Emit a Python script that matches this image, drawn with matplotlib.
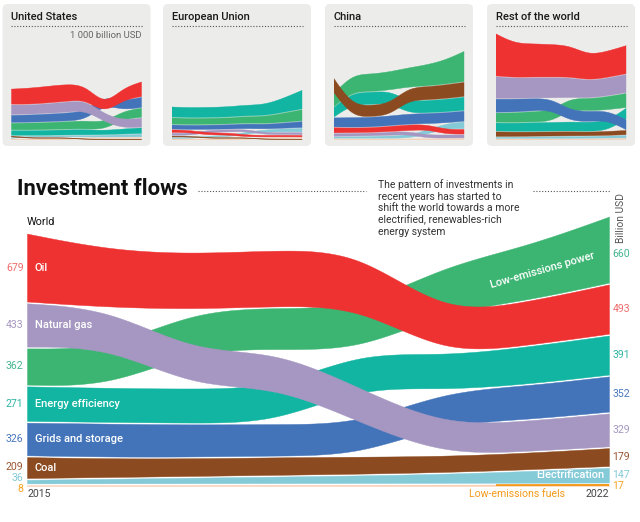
import numpy as np
import matplotlib.pyplot as plt
from matplotlib.patches import FancyBboxPatch

plt.rcParams['font.family'] = ['Roboto', 'DejaVu Sans']

YEARS = [2015, 2016, 2017, 2018, 2019, 2020, 2021, 2022]
CATEGORIES = ['Oil', 'Natural gas', 'Low-emissions power', 'Energy efficiency',
              'Grids and storage', 'Coal', 'Electrification', 'Low-emissions fuels']
COLORS = ['#EE3131', '#A597C1', '#3CB572', '#12B5A2',
          '#4374BA', '#8B4A1F', '#84CAD7', '#F8CDB0']
LABEL_COLORS = ['#F06A6A', '#A597C1', '#45B58E', '#2DB5A5',
                '#4A78BE', '#9A5530', '#84CAD7', '#F5A623']

# billion USD, rows follow CATEGORIES, columns follow YEARS
WORLD = [
    [679, 570, 550, 560, 550, 400, 430, 493],
    [433, 380, 350, 355, 340, 290, 300, 329],
    [362, 375, 395, 410, 420, 460, 540, 660],
    [345, 340, 340, 345, 345, 340, 370, 391],
    [326, 330, 320, 315, 310, 320, 335, 352],
    [209, 185, 175, 175, 170, 160, 165, 179],
    [36, 45, 55, 65, 75, 90, 115, 147],
    [8, 9, 10, 11, 12, 13, 15, 17],
]
START_LABELS = [679, 433, 362, 271, 326, 209, 36, 8]
END_LABELS = [493, 329, 660, 391, 352, 179, 147, 17]

US = [
    [150, 160, 165, 170, 140, 80, 120, 145],
    [95, 90, 95, 100, 100, 75, 80, 88],
    [65, 68, 70, 72, 80, 70, 82, 90],
    [45, 45, 48, 50, 52, 40, 50, 55],
    [70, 72, 75, 78, 85, 85, 92, 100],
    [8, 6, 5, 5, 4, 3, 3, 3],
    [5, 6, 8, 10, 12, 15, 20, 25],
    [3, 3, 3, 4, 4, 4, 5, 6],
]
EU = [
    [25, 22, 20, 19, 18, 14, 15, 14],
    [20, 18, 21, 20, 20, 16, 17, 18],
    [62, 60, 60, 60, 65, 70, 90, 110],
    [100, 100, 100, 102, 105, 110, 140, 185],
    [40, 40, 40, 42, 45, 45, 50, 58],
    [8, 7, 6, 6, 5, 4, 4, 3],
    [5, 6, 8, 11, 19, 22, 28, 35],
    [2, 2, 3, 3, 4, 4, 5, 5],
]
CHINA = [
    [50, 45, 45, 50, 55, 50, 45, 45],
    [25, 25, 25, 28, 30, 30, 30, 30],
    [130, 170, 175, 180, 190, 210, 240, 300],
    [95, 120, 120, 120, 120, 120, 125, 130],
    [90, 95, 95, 95, 100, 100, 100, 100],
    [140, 115, 110, 115, 125, 130, 135, 140],
    [10, 12, 15, 20, 28, 38, 50, 65],
    [5, 5, 5, 5, 5, 5, 6, 7],
]
REST = [
    [420, 340, 330, 325, 310, 250, 260, 280],
    [215, 200, 200, 200, 195, 170, 175, 180],
    [90, 95, 102, 108, 115, 120, 130, 140],
    [80, 80, 85, 85, 90, 88, 95, 105],
    [130, 128, 120, 112, 105, 98, 96, 98],
    [45, 42, 40, 40, 40, 35, 38, 42],
    [10, 10, 12, 13, 15, 15, 18, 22],
    [3, 3, 4, 4, 4, 5, 6, 8],
]
REGIONS = ['United States', 'European Union', 'China', 'Rest of the world']

DRAW_ORDER = [7, 6, 3, 2, 4, 5, 1, 0]
DOTS = (0, (1, 1.6))


def basis(x, y, n=40):
    # uniform cubic B-spline with tripled end points (like d3.curveBasis)
    x = np.r_[x[0], x[0], x, x[-1], x[-1]].astype(float)
    y = np.r_[y[0], y[0], y, y[-1], y[-1]].astype(float)
    t = np.linspace(0, 1, n)
    b0 = (1 - t) ** 3 / 6
    b1 = (3 * t ** 3 - 6 * t ** 2 + 4) / 6
    b2 = (-3 * t ** 3 + 3 * t ** 2 + 3 * t + 1) / 6
    b3 = t ** 3 / 6
    xs, ys = [], []
    for i in range(len(x) - 3):
        xs.append(b0 * x[i] + b1 * x[i + 1] + b2 * x[i + 2] + b3 * x[i + 3])
        ys.append(b0 * y[i] + b1 * y[i + 1] + b2 * y[i + 2] + b3 * y[i + 3])
    return np.concatenate(xs), np.concatenate(ys)


def stack(values, gap):
    v = np.array(values, float)
    lo = np.zeros_like(v)
    hi = np.zeros_like(v)
    for j in range(v.shape[1]):
        base = 0
        for i in sorted(range(len(v)), key=lambda k: v[k, j]):
            lo[i, j] = base
            hi[i, j] = base + v[i, j]
            base = hi[i, j] + gap
    return lo, hi


def draw_streams(ax, values, gap):
    lo, hi = stack(values, gap)
    curves = {}
    for i in DRAW_ORDER:
        xc, yl = basis(YEARS, lo[i])
        _, yh = basis(YEARS, hi[i])
        ax.fill_between(xc, yl, yh, color=COLORS[i], lw=0.3, ec=COLORS[i])
        curves[i] = (xc, yl, yh)
    return lo, hi, curves


def spread(ys, d):
    ys = np.array(ys, float)
    order = np.argsort(ys)
    for _ in range(60):
        for a, b in zip(order[:-1], order[1:]):
            if ys[b] - ys[a] < d:
                m = (d - (ys[b] - ys[a])) / 2
                ys[a] -= m
                ys[b] += m
    return ys


W, H = 640, 522
fig = plt.figure(figsize=(W / 100, H / 100), dpi=100)


def px_axes(x0, y0, x1, y1):
    return fig.add_axes([x0 / W, 1 - y1 / H, (x1 - x0) / W, (y1 - y0) / H])


bg = fig.add_axes([0, 0, 1, 1])
bg.set_xlim(0, W)
bg.set_ylim(H, 0)
bg.axis('off')

# ---- small multiples ----
panel_x = [2.5, 163, 325, 487]
for k, (name, data) in enumerate(zip(REGIONS, [US, EU, CHINA, REST])):
    x0 = panel_x[k]
    bg.add_patch(FancyBboxPatch((x0, 4), 148, 142, boxstyle='round,pad=0,rounding_size=5',
                                fc='#ECECEA', ec='none'))
    bg.text(x0 + 8.5, 17, name, fontsize=8, fontweight='medium', color='#1a1a1a',
            ha='left', va='center')
    bg.plot([x0 + 8.5, x0 + 140], [26, 26], color='#555555', lw=0.8, ls=DOTS)
    sax = px_axes(x0 + 8.5, 30, x0 + 138.5, 139)
    sax.set_xlim(2015, 2022)
    sax.set_ylim(0, 1090)
    sax.axis('off')
    draw_streams(sax, data, 9)
bg.text(141, 35, '1 000 billion USD', fontsize=6.8, color='#666666', ha='right', va='center')

# ---- headline ----
bg.text(17, 189, 'Investment flows', fontsize=15.8, fontweight='bold', color='#111111',
        ha='left', va='center')
bg.plot([198, 366], [191, 191], color='#555555', lw=0.8, ls=DOTS)
bg.plot([533, 610], [191, 191], color='#555555', lw=0.8, ls=DOTS)
bg.text(378, 179, 'The pattern of investments in\nrecent years has started to\n'
        'shift the world towards a more\nelectrified, renewables-rich\nenergy system',
        fontsize=7.5, color='#333333', ha='left', va='top', linespacing=1.2)
bg.text(621, 218, 'Billion USD', fontsize=7.4, color='#555555', rotation=90,
        ha='center', va='center')

# ---- world chart ----
ax = px_axes(27, 160, 609, 486)
ax.set_xlim(2015, 2022)
ax.set_ylim(0, 3260)
ax.axis('off')
lo, hi, curves = draw_streams(ax, WORLD, 18)

# highlight the low-emissions fuels strip at the end
xc, yl, yh = curves[7]
m = xc >= 2020.63
ax.plot(xc[m], (yl[m] + yh[m]) / 2, color='#F39A1B', lw=1.6, solid_capstyle='butt')

left_y = spread((lo[:, 0] + hi[:, 0]) / 2, 110)
right_y = spread((lo[:, -1] + hi[:, -1]) / 2, 110)
right_y = np.minimum(right_y, 2320)
for i in range(len(CATEGORIES)):
    ax.annotate(str(START_LABELS[i]), (2015, left_y[i]), xytext=(-2.5, 0),
                textcoords='offset points', ha='right', va='center',
                fontsize=7.6, color=LABEL_COLORS[i], annotation_clip=False)
    ax.annotate(str(END_LABELS[i]), (2022, right_y[i]), xytext=(2.5, 0),
                textcoords='offset points', ha='left', va='center',
                fontsize=7.6, color=LABEL_COLORS[i], annotation_clip=False)

for i in [0, 1, 3, 4, 5]:
    ax.annotate(CATEGORIES[i], (2015, (lo[i, 0] + hi[i, 0]) / 2), xytext=(5.5, 0),
                textcoords='offset points', ha='left', va='center',
                fontsize=8, fontweight='medium', color='white')

xl, yl2, yh2 = curves[2]
k = np.argmin(np.abs(xl - 2021.2))
ax.text(2021.2, (yl2[k] + yh2[k]) / 2 - 20, 'Low-emissions power', rotation=16,
        rotation_mode='anchor', ha='center', va='center', fontsize=8,
        fontweight='medium', color='white')
ax.annotate('Electrification', (2022, (lo[6, -1] + hi[6, -1]) / 2), xytext=(-3, 0),
            textcoords='offset points', ha='right', va='center', fontsize=8,
            fontweight='medium', color='white')

ax.text(2015, 2640, 'World', fontsize=7.8, color='#111111', ha='left', va='center')
ax.text(2015, -80, '2015', fontsize=7.6, color='#444444', ha='left', va='center')
ax.text(2022, -80, '2022', fontsize=7.6, color='#444444', ha='right', va='center')
ax.text(2021.47, -80, 'Low-emissions fuels', fontsize=7.6, color='#F39A1B',
        ha='right', va='center')

fig.savefig('out.png', dpi=100)
